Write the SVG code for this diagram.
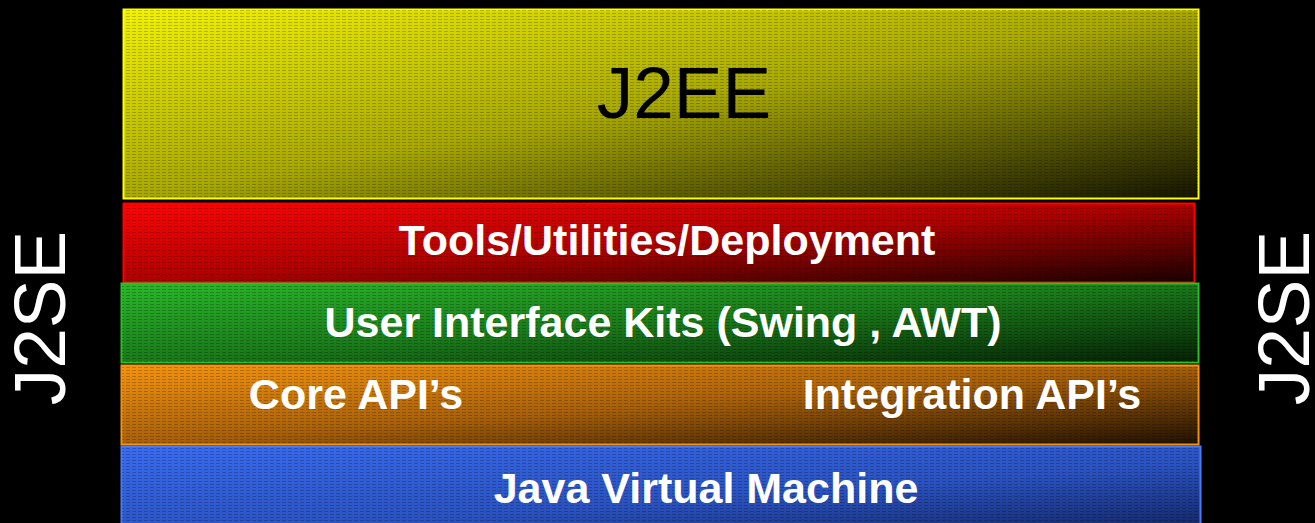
<svg xmlns="http://www.w3.org/2000/svg" width="1315" height="523" viewBox="0 0 1315 523">
<defs>
<linearGradient id="gY" x1="0" y1="0" x2="1" y2="1"><stop offset="0" stop-color="#f2f200"/><stop offset="0.5" stop-color="#a8a800"/><stop offset="1" stop-color="#141400"/></linearGradient>
<linearGradient id="gR" x1="0" y1="0" x2="1" y2="1"><stop offset="0" stop-color="#ff0505"/><stop offset="0.5" stop-color="#b00000"/><stop offset="1" stop-color="#1a0000"/></linearGradient>
<linearGradient id="gG" x1="0" y1="0" x2="1" y2="1"><stop offset="0" stop-color="#2ab82a"/><stop offset="0.5" stop-color="#1a7a1a"/><stop offset="1" stop-color="#052005"/></linearGradient>
<linearGradient id="gO" x1="0" y1="0" x2="1" y2="1"><stop offset="0" stop-color="#f5940c"/><stop offset="0.5" stop-color="#a86008"/><stop offset="1" stop-color="#201000"/></linearGradient>
<linearGradient id="gB" x1="0" y1="0" x2="1" y2="1"><stop offset="0" stop-color="#3a6cf0"/><stop offset="0.6" stop-color="#2a52c0"/><stop offset="1" stop-color="#14286a"/></linearGradient>
<pattern id="tex" width="6" height="3" patternUnits="userSpaceOnUse"><rect x="0" y="1" width="4" height="1" fill="#000" opacity="0.22"/></pattern>
</defs>
<style>
.lbl{font-family:"Liberation Sans",Arial,sans-serif;font-weight:bold;font-size:43px;fill:#fff;text-anchor:middle}
.big{font-family:"Liberation Sans",Arial,sans-serif;font-size:73px;text-anchor:middle}
</style>
<rect width="1315" height="523" fill="#000"/>
<g id="j2ee">
<rect x="123.5" y="9.5" width="1075" height="189" fill="url(#gY)" stroke="#ffff00" stroke-width="2"/>
<rect x="124" y="10" width="1074" height="188" fill="url(#tex)"/>
<text class="big" x="684" y="118" fill="#000">J2EE</text>
</g>
<g id="tools">
<rect x="123.5" y="203.5" width="1071" height="79" fill="url(#gR)" stroke="#ff0000" stroke-width="2"/>
<rect x="124" y="204" width="1070" height="78" fill="url(#tex)"/>
<text class="lbl" x="667" y="255">Tools/Utilities/Deployment</text>
</g>
<g id="ui">
<rect x="121.5" y="283.5" width="1077" height="79" fill="url(#gG)" stroke="#2bc02b" stroke-width="2"/>
<rect x="122" y="284" width="1076" height="78" fill="url(#tex)"/>
<text class="lbl" x="663" y="337">User Interface Kits (Swing , AWT)</text>
</g>
<g id="api">
<rect x="121.5" y="365.5" width="1077" height="79" fill="url(#gO)" stroke="#f5940c" stroke-width="2"/>
<rect x="122" y="366" width="1076" height="78" fill="url(#tex)"/>
<text class="lbl" x="356" y="409">Core API’s</text>
<text class="lbl" x="972" y="409">Integration API’s</text>
</g>
<g id="jvm">
<rect x="121.5" y="446.5" width="1079" height="80" fill="url(#gB)" stroke="#4a7af5" stroke-width="2"/>
<rect x="122" y="447" width="1078" height="76" fill="url(#tex)"/>
<text class="lbl" x="706" y="503">Java Virtual Machine</text>
</g>
<g id="j2se-left">
<text class="big" fill="#fff" transform="translate(65 318) rotate(-90)">J2SE</text>
</g>
<g id="j2se-right">
<text class="big" fill="#fff" transform="translate(1309 318) rotate(-90)">J2SE</text>
</g>
<g id="connectors"/>
</svg>
